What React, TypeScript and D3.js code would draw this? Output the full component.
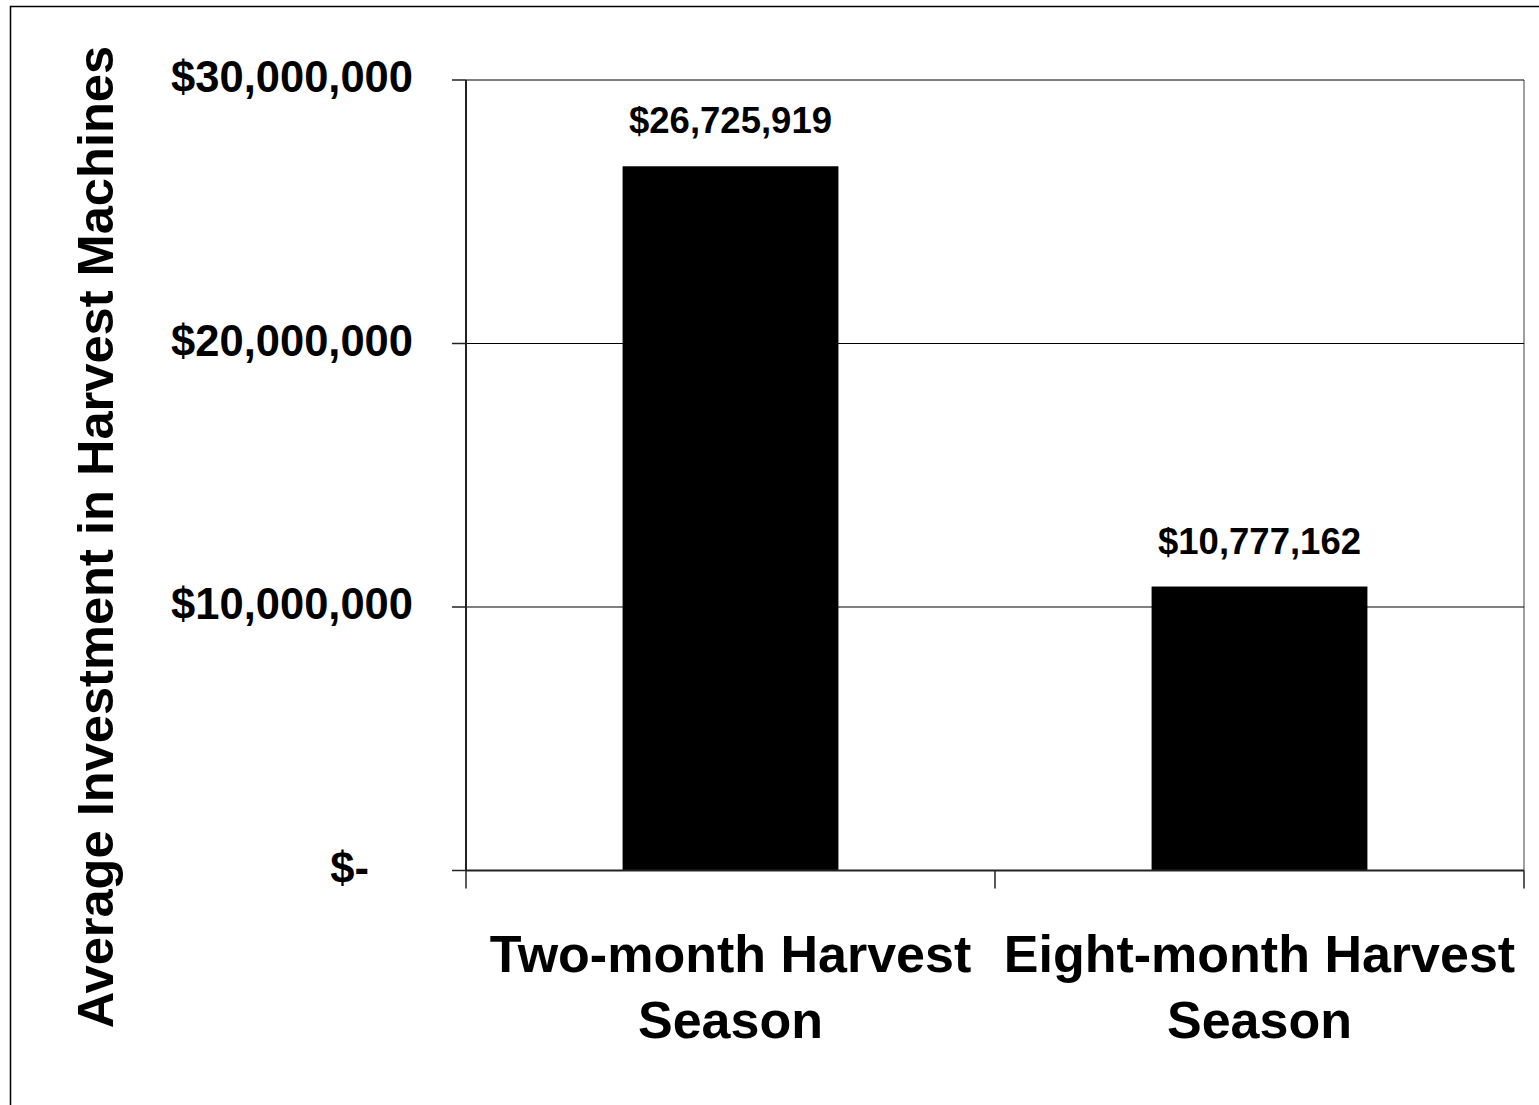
import React from "react";
import * as d3 from "d3";

const categories = ["Two-month Harvest Season", "Eight-month Harvest Season"];
const categoryLines = [
  ["Two-month Harvest", "Season"],
  ["Eight-month Harvest", "Season"],
];
const values = [26725919, 10777162];
const valueLabels = ["$26,725,919", "$10,777,162"];
const tickValues = [0, 10000000, 20000000, 30000000];
const tickLabels = ["$-", "$10,000,000", "$20,000,000", "$30,000,000"];
const yTitle = "Average Investment in Harvest Machines";

export default function App() {
  const W = 1539;
  const H = 1105;
  const left = 466;
  const right = 1524;
  const top = 80;
  const bottom = 870.5;
  const font = "'Liberation Sans', Arial, sans-serif";

  const y = d3.scaleLinear().domain([0, 30000000]).range([bottom, top]);
  const x = d3
    .scaleBand<string>()
    .domain(categories)
    .range([left, right])
    .paddingInner(0.592)
    .paddingOuter(0.296);
  const step = x.step();

  return (
    <svg
      width={W}
      height={H}
      style={{ position: "absolute", left: 0, top: 0, background: "#fff" }}
    >
      <rect x={0} y={0} width={W} height={H} fill="#fff" />
      <rect x={10.5} y={6.5} width={W + 20} height={H + 20} fill="none" stroke="#000" strokeWidth={1.5} />

      {/* plot area border (right side) */}
      <line x1={right} x2={right} y1={top} y2={bottom} stroke="#808080" strokeWidth={1.5} />

      {/* gridlines */}
      {tickValues.slice(1).map((v) => (
        <line key={v} x1={left} x2={right} y1={y(v)} y2={y(v)} stroke="#000" strokeWidth={1} />
      ))}

      {/* bars */}
      {categories.map((c, i) => (
        <rect
          key={c}
          x={x(c)}
          y={y(values[i])}
          width={x.bandwidth()}
          height={bottom - y(values[i])}
          fill="#000"
        />
      ))}

      {/* axes */}
      <line x1={left} x2={left} y1={top} y2={bottom} stroke="#222" strokeWidth={2} />
      <line x1={left} x2={right} y1={bottom} y2={bottom} stroke="#222" strokeWidth={2} />
      {tickValues.map((v) => (
        <line key={"t" + v} x1={left - 14} x2={left} y1={y(v)} y2={y(v)} stroke="#222" strokeWidth={1.5} />
      ))}
      {[0, 1, 2].map((k) => (
        <line
          key={"c" + k}
          x1={left + k * step}
          x2={left + k * step}
          y1={bottom}
          y2={bottom + 18}
          stroke="#222"
          strokeWidth={1.5}
        />
      ))}

      {/* tick labels */}
      {tickValues.map((v, i) => (
        <text
          key={"l" + v}
          x={v === 0 ? 369 : 413}
          y={y(v) + 12}
          textAnchor="end"
          fontFamily={font}
          fontWeight="bold"
          fontSize={43.5}
          fill="#000"
        >
          {tickLabels[i]}
        </text>
      ))}

      {/* value labels */}
      {categories.map((c, i) => (
        <text
          key={"v" + c}
          x={(x(c) as number) + x.bandwidth() / 2}
          y={y(values[i]) - 33}
          textAnchor="middle"
          fontFamily={font}
          fontWeight="bold"
          fontSize={36.5}
          fill="#000"
        >
          {valueLabels[i]}
        </text>
      ))}

      {/* category labels */}
      {categories.map((c, i) => (
        <text
          key={"cat" + c}
          textAnchor="middle"
          fontFamily={font}
          fontWeight="bold"
          fontSize={52}
          fill="#000"
        >
          {categoryLines[i].map((ln, j) => (
            <tspan key={j} x={(x(c) as number) + x.bandwidth() / 2} y={972 + j * 66}>
              {ln}
            </tspan>
          ))}
        </text>
      ))}

      {/* y title */}
      <text
        transform={`translate(113, 537) rotate(-90)`}
        textAnchor="middle"
        fontFamily={font}
        fontWeight="bold"
        fontSize={50.6}
        fill="#000"
      >
        {yTitle}
      </text>
    </svg>
  );
}
